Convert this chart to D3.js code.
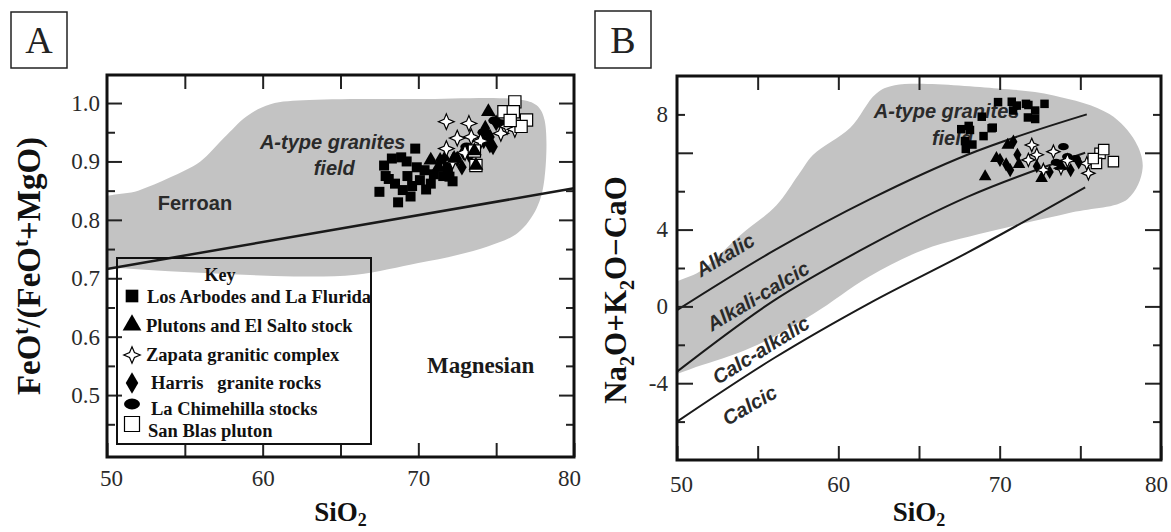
<!DOCTYPE html>
<html>
<head>
<meta charset="utf-8">
<script src="https://cdn.jsdelivr.net/npm/d3@7"></script>
<style>
  body { margin: 0; background: #fff; }
  svg { display: block; }
</style>
</head>
<body>
<div id="chart"></div>
<script>
// ---- Data ----

// shared x ticks (SiO2)
const xTickLabels = [50, 60, 70, 80];

// Panel A: FeOt/(FeOt+MgO) vs SiO2
const aYTicks = [0.5, 0.6, 0.7, 0.8, 0.9, 1.0];
const aBoundary = [[50, 0.716], [80, 0.854]]; // ferroan / magnesian line
const aField = [
  [49, 0.72], [49, 0.828], [52, 0.85], [54, 0.872], [56, 0.9], [57.5, 0.94], [59, 0.978],
  [60.5, 0.998], [63, 1.005], [70, 1.007], [76.5, 1.006], [77.6, 0.996], [78.1, 0.972],
  [78.1, 0.87], [77.6, 0.82], [76.4, 0.778], [74.5, 0.755], [72.5, 0.74], [70, 0.726],
  [66, 0.706], [62, 0.703], [58, 0.707], [54, 0.712], [51, 0.717]
];
const aLosArbodes = [
  [67.5, 0.848], [67.8, 0.893], [67.9, 0.875], [68.3, 0.905], [68.7, 0.83], [68.5, 0.862],
  [68.9, 0.907], [69.0, 0.851], [69.3, 0.875], [69.6, 0.858], [69.8, 0.922], [69.25, 0.9],
  [69.9, 0.89], [70.1, 0.868], [70.5, 0.852], [70.4, 0.885], [71.0, 0.878], [71.6, 0.875],
  [72.0, 0.874], [72.2, 0.866], [71.9, 0.89], [68.1, 0.87], [69.5, 0.84], [70.8, 0.862]
];
const aPlutons = [[74.5, 0.985], [70.8, 0.902], [71.3, 0.89], [72.3, 0.905], [73.6, 0.918], [73.7, 0.893]];
const aZapata = [
  [71.8, 0.968], [73.25, 0.965], [72.5, 0.94], [73.4, 0.942], [71.8, 0.922], [74.0, 0.935],
  [75.3, 0.948], [75.7, 0.96], [72.2, 0.9], [73.0, 0.915], [76.2, 0.955]
];
const aHarris = [
  [71.4, 0.902], [71.7, 0.905], [72.5, 0.904], [72.9, 0.916], [73.3, 0.91], [74.3, 0.957],
  [74.6, 0.928], [74.8, 0.925], [74.6, 0.942], [75.0, 0.966], [72.8, 0.89], [74.2, 0.935]
];
const aChimehilla = [[74.9, 0.97], [75.3, 0.965], [74.2, 0.95], [73.1, 0.925]];
const aSanBlas = [
  [76.2, 1.002], [75.5, 0.985], [76.1, 0.985], [76.95, 0.971], [76.6, 0.96], [75.9, 0.97],
  [73.6, 0.918], [73.7, 0.893]
];

// Panel B: Na2O+K2O-CaO vs SiO2 (MALI)
const bYTicks = [10, 4, 0, -4];
const bYTickLabels = ["8", "4", "0", "-4"]; // labels as printed in the figure
const bAlkalic = [[50, -0.2], [56, 2.9], [62, 5.6], [68, 7.9], [75.4, 10.0]];
const bAlkaliCalcic = [[50, -3.4], [56, 0.3], [62, 3.2], [68, 5.7], [75.3, 8.0]];
const bCalcAlkalic = [[50, -6.0], [56, -2.7], [62, 0.2], [68, 2.8], [75.3, 6.2]];
const bField = [
  [49, 0.66], [51.56, 1.89], [53.85, 3.66], [56.15, 5.25], [57.52, 6.84], [58.44, 7.9],
  [60.74, 9.31], [62.34, 11.08], [63.5, 11.52], [69.9, 11.35], [73.35, 10.99], [76.8, 10.02],
  [78.4, 8.6], [78.86, 7.19], [77.94, 5.6], [74.5, 4.9], [69.9, 4.0], [65.3, 2.95],
  [61.9, 1.54], [58.44, -0.4], [55.0, -2.0], [51.56, -3.05], [49, -3.5]
];
const bLosArbodes = [
  [67.62, 9.23], [68.08, 9.4], [67.85, 8.61], [68.31, 8.43], [69.0, 8.87], [69.57, 9.31],
  [69.9, 10.64], [71.06, 10.46], [71.63, 10.55], [72.2, 10.2], [72.78, 10.55], [70.83, 10.2],
  [71.75, 9.84], [72.2, 9.76], [68.89, 9.88], [69.5, 9.28], [68.16, 9.19], [67.9, 8.2],
  [70.75, 10.66], [71.78, 10.49]
];
const bPlutons = [[69.1, 6.76], [69.8, 7.71], [72.6, 6.67], [70.5, 8.4], [71.2, 7.4], [73.8, 7.3]];
const bZapata = [
  [71.99, 8.41], [71.78, 7.63], [73.33, 8.06], [72.71, 7.1], [75.4, 7.45], [75.5, 6.93],
  [74.2, 7.6], [72.3, 7.9], [73.8, 7.2]
];
const bHarris = [
  [70.85, 8.58], [70.02, 7.63], [70.65, 7.1], [71.1, 7.9], [72.3, 7.3], [73.1, 7.0],
  [74.4, 7.1], [74.9, 7.5], [70.4, 7.4]
];
const bChimehilla = [[73.95, 8.32], [74.2, 7.8], [74.7, 7.7], [73.5, 7.5]];
const bSanBlas = [[76.22, 7.97], [77.05, 7.54], [76.0, 7.45], [76.45, 8.17], [75.8, 7.7]];

// Legend (panel A)
const legendLabels = [
  "Los Arbodes and La Flurida",
  "Plutons and El Salto stock",
  "Zapata granitic complex",
  "Harris   granite rocks",
  "La Chimehilla stocks",
  "San Blas pluton"
];
const legendKeys = ["square", "triangle", "star", "diamond", "ellipse", "open"];

// ---- Setup ----
const width = 1171;
const height = 532;
const serif = "'Liberation Serif', 'Times New Roman', serif";
const sans = "'Liberation Sans', Arial, sans-serif";

const svg = d3
  .select("#chart")
  .append("svg")
  .attr("width", width)
  .attr("height", height)
  .style("background", "#fff");

// 4-point star used for Zapata
const star4 = {
  draw(ctx, size) {
    const r = Math.sqrt(size) * 0.62;
    const ri = r * 0.42;
    for (let i = 0; i < 8; i++) {
      const a = (i * Math.PI) / 4 - Math.PI / 2;
      const rr = i % 2 ? ri : r;
      const px = Math.cos(a) * rr;
      const py = Math.sin(a) * rr;
      if (i === 0) ctx.moveTo(px, py);
      else ctx.lineTo(px, py);
    }
    ctx.closePath();
  }
};

// lg = size factor used for the legend symbol
const markerStyle = {
  square: { type: d3.symbolSquare, size: 100, fill: "#000", stroke: "none", lg: 1.6 },
  triangle: { type: d3.symbolTriangle, size: 95, fill: "#000", stroke: "none", lg: 1.6 },
  star: { type: star4, size: 160, fill: "#fff", stroke: "#000", lg: 1.1 },
  diamond: { type: d3.symbolDiamond, size: 80, fill: "#000", stroke: "none", lg: 1.7 },
  ellipse: { type: d3.symbolCircle, size: 80, fill: "#000", stroke: "none", sx: 1.25, sy: 0.85, lg: 1.6 },
  open: { type: d3.symbolSquare, size: 150, fill: "#fff", stroke: "#000", lg: 1.5 }
};

function drawMarkers(g, data, key, x, y, k) {
  const st = markerStyle[key];
  g.selectAll(null)
    .data(data)
    .enter()
    .append("path")
    .attr("d", d3.symbol().type(st.type).size(st.size * k * k))
    .attr("transform", (d) => `translate(${x(d[0])},${y(d[1])}) scale(${st.sx || 1},${st.sy || 1})`)
    .attr("fill", st.fill)
    .attr("stroke", st.stroke)
    .attr("stroke-width", 1.2);
}

function drawFrame(g, p) {
  g.append("rect")
    .attr("x", p.left)
    .attr("y", p.top)
    .attr("width", p.right - p.left)
    .attr("height", p.bottom - p.top)
    .attr("fill", "none")
    .attr("stroke", "#111")
    .attr("stroke-width", 3);
}

function styleAxis(sel, fontSize) {
  sel.select(".domain").remove();
  sel.selectAll(".tick line").attr("stroke", "#222").attr("stroke-width", 2);
  sel.selectAll(".tick text")
    .attr("fill", "#2a2a2a")
    .style("font-family", serif)
    .style("font-size", fontSize + "px");
}

function drawXAxes(g, x, p, tickLen, pad) {
  const all = d3.range(50, 81, 5);
  const bottom = g.append("g")
    .attr("transform", `translate(0,${p.bottom})`)
    .call(d3.axisBottom(x).tickValues(all).tickSize(-tickLen).tickPadding(pad)
      .tickFormat((d) => (xTickLabels.includes(d) ? d : "")))
    .call((s) => styleAxis(s, 23));
  // end labels sit slightly inside the frame, as in the figure
  bottom.selectAll(".tick text").attr("dx", (d) => (d === 50 ? 4 : d === 80 ? -5 : 0));
  g.append("g")
    .attr("transform", `translate(0,${p.top})`)
    .call(d3.axisTop(x).tickValues(all.slice(1, -1)).tickSize(-tickLen).tickFormat(""))
    .call((s) => styleAxis(s, 23));
}

function drawYTicks(g, y, p, values, len) {
  g.append("g")
    .attr("transform", `translate(${p.left},0)`)
    .call(d3.axisLeft(y).tickValues(values).tickSize(-len).tickFormat(""))
    .call((s) => styleAxis(s, 23));
  g.append("g")
    .attr("transform", `translate(${p.right},0)`)
    .call(d3.axisRight(y).tickValues(values).tickSize(-len).tickFormat(""))
    .call((s) => styleAxis(s, 23));
}

function boxLabel(letter, x0, y0, w, h) {
  svg.append("rect")
    .attr("x", x0).attr("y", y0).attr("width", w).attr("height", h)
    .attr("fill", "#fff").attr("stroke", "#222").attr("stroke-width", 1.5);
  svg.append("text")
    .attr("x", x0 + w / 2).attr("y", y0 + h / 2 + 13)
    .attr("text-anchor", "middle")
    .style("font-family", serif).style("font-size", "38px")
    .attr("fill", "#222")
    .text(letter);
}

function xTitle(cx) {
  const t = svg.append("text")
    .attr("x", cx).attr("y", 521)
    .attr("text-anchor", "middle")
    .style("font-family", serif).style("font-weight", "bold").style("font-size", "27px")
    .attr("fill", "#111");
  t.append("tspan").text("SiO");
  t.append("tspan").attr("dy", 5).style("font-size", "18px").text("2");
}

// ================= Panel A =================
const pA = { left: 107, right: 574, top: 75, bottom: 457 };
const xA = d3.scaleLinear().domain([50, 80]).range([pA.left, pA.right]);
const yA = d3.scaleLinear().domain([0.394, 1.048]).range([pA.bottom, pA.top]);
const gA = svg.append("g");

gA.append("clipPath").attr("id", "clipA").append("rect")
  .attr("x", pA.left).attr("y", pA.top)
  .attr("width", pA.right - pA.left).attr("height", pA.bottom - pA.top);

gA.append("path")
  .datum(aField)
  .attr("clip-path", "url(#clipA)")
  .attr("d", d3.line().x((d) => xA(d[0])).y((d) => yA(d[1])).curve(d3.curveCatmullRomClosed.alpha(0.5)))
  .attr("fill", "#c3c3c3");

gA.append("path")
  .datum(aBoundary)
  .attr("d", d3.line().x((d) => xA(d[0])).y((d) => yA(d[1])))
  .attr("stroke", "#1a1a1a").attr("stroke-width", 2.5).attr("fill", "none");

// y ticks: major every 0.1 (with labels), minor every 0.05
drawYTicks(gA, yA, pA, d3.range(0.45, 1.04, 0.1), 8);
gA.append("g")
  .attr("transform", `translate(${pA.left},0)`)
  .call(d3.axisLeft(yA).tickValues(aYTicks).tickSize(-15).tickPadding(7).tickFormat(d3.format(".1f")))
  .call((s) => styleAxis(s, 23));
gA.append("g")
  .attr("transform", `translate(${pA.right},0)`)
  .call(d3.axisRight(yA).tickValues(aYTicks).tickSize(-15).tickFormat(""))
  .call((s) => styleAxis(s, 23));
drawXAxes(gA, xA, pA, 14, 13);
drawFrame(gA, pA);

// field annotations
gA.append("text")
  .attr("x", xA(55.65)).attr("y", yA(0.829)).attr("dy", "0.35em")
  .attr("text-anchor", "middle").attr("fill", "#2a2a2a")
  .style("font-family", sans).style("font-weight", "bold").style("font-size", "20px")
  .text("Ferroan");
gA.append("text")
  .attr("x", xA(64.5)).attr("y", yA(0.933)).attr("dy", "0.35em")
  .attr("text-anchor", "middle").attr("fill", "#2a2a2a")
  .style("font-family", sans).style("font-weight", "bold").style("font-style", "italic").style("font-size", "20px")
  .text("A-type granites");
gA.append("text")
  .attr("x", xA(64.6)).attr("y", yA(0.889)).attr("dy", "0.35em")
  .attr("text-anchor", "middle").attr("fill", "#2a2a2a")
  .style("font-family", sans).style("font-weight", "bold").style("font-style", "italic").style("font-size", "20px")
  .text("field");
gA.append("text")
  .attr("x", xA(74.0)).attr("y", yA(0.551)).attr("dy", "0.35em")
  .attr("text-anchor", "middle").attr("fill", "#1a1a1a")
  .style("font-family", serif).style("font-weight", "bold").style("font-size", "23px")
  .text("Magnesian");

// points
drawMarkers(gA, aLosArbodes, "square", xA, yA, 1);
drawMarkers(gA, aHarris, "diamond", xA, yA, 1);
drawMarkers(gA, aChimehilla, "ellipse", xA, yA, 1);
drawMarkers(gA, aZapata, "star", xA, yA, 1);
drawMarkers(gA, aSanBlas, "open", xA, yA, 1);
drawMarkers(gA, aPlutons, "triangle", xA, yA, 1);

// legend
const legend = gA.append("g");
legend.append("rect")
  .attr("x", 117).attr("y", 258).attr("width", 254).attr("height", 186)
  .attr("fill", "none").attr("stroke", "#111").attr("stroke-width", 2);
legend.append("text")
  .attr("x", 220).attr("y", 281).attr("text-anchor", "middle")
  .style("font-family", serif).style("font-weight", "bold").style("font-size", "18px")
  .attr("fill", "#111").text("Key");
const legendRows = [
  { my: 296, ty: 303, tx: 147 },
  { my: 325, ty: 332, tx: 146 },
  { my: 355, ty: 361, tx: 146 },
  { my: 383, ty: 389, tx: 151 },
  { my: 404, ty: 415, tx: 151 },
  { my: 424, ty: 437, tx: 148 }
];
legendKeys.forEach((key, i) => {
  const st = markerStyle[key];
  const r = legendRows[i];
  legend.append("path")
    .attr("d", d3.symbol().type(st.type).size(st.size * st.lg))
    .attr("transform", `translate(132,${r.my}) scale(${st.sx || 1},${st.sy || 1})`)
    .attr("fill", st.fill).attr("stroke", st.stroke).attr("stroke-width", 1.2);
  legend.append("text")
    .attr("x", r.tx).attr("y", r.ty)
    .style("font-family", serif).style("font-weight", "bold").style("font-size", "18.5px")
    .style("white-space", "pre").attr("xml:space", "preserve")
    .attr("fill", "#111")
    .text(legendLabels[i]);
});

// axis titles
const yTitleA = svg.append("text")
  .attr("transform", "translate(40,266) rotate(-90)")
  .attr("text-anchor", "middle")
  .style("font-family", serif).style("font-weight", "bold").style("font-size", "33px")
  .attr("fill", "#111");
yTitleA.append("tspan").text("FeO");
yTitleA.append("tspan").attr("dy", -12).style("font-size", "21px").text("t");
yTitleA.append("tspan").attr("dy", 12).text("/(FeO");
yTitleA.append("tspan").attr("dy", -12).style("font-size", "21px").text("t");
yTitleA.append("tspan").attr("dy", 12).text("+MgO)");

xTitle((pA.left + pA.right) / 2);
boxLabel("A", 11, 12, 56, 56);

// ================= Panel B =================
const pB = { left: 677, right: 1161, top: 76, bottom: 460 };
const xB = d3.scaleLinear().domain([50, 80]).range([pB.left, pB.right]);
const yB = d3.scaleLinear().domain([-8, 12]).range([pB.bottom, pB.top]);
const gB = svg.append("g");

gB.append("clipPath").attr("id", "clipB").append("rect")
  .attr("x", pB.left).attr("y", pB.top)
  .attr("width", pB.right - pB.left).attr("height", pB.bottom - pB.top);

gB.append("path")
  .datum(bField)
  .attr("clip-path", "url(#clipB)")
  .attr("d", d3.line().x((d) => xB(d[0])).y((d) => yB(d[1])).curve(d3.curveCatmullRomClosed.alpha(0.5)))
  .attr("fill", "#c3c3c3");

const lineB = d3.line().x((d) => xB(d[0])).y((d) => yB(d[1])).curve(d3.curveMonotoneX);
[bAlkalic, bAlkaliCalcic, bCalcAlkalic].forEach((ln) => {
  gB.append("path")
    .datum(ln)
    .attr("d", lineB)
    .attr("stroke", "#1a1a1a").attr("stroke-width", 2).attr("fill", "none");
});

// y ticks: every 2, long on multiples of 4
const bMinor = d3.range(-6, 12, 2).filter((v) => v % 4 !== 0);
const bMajor = d3.range(-4, 12, 4);
drawYTicks(gB, yB, pB, bMinor, 8);
drawYTicks(gB, yB, pB, bMajor, 16);
gB.append("g")
  .attr("transform", `translate(${pB.left},0)`)
  .call(d3.axisLeft(yB).tickValues(bYTicks).tickSize(0).tickPadding(9)
    .tickFormat((d, i) => bYTickLabels[i]))
  .call((s) => styleAxis(s, 23));
drawXAxes(gB, xB, pB, 14, 16);
drawFrame(gB, pB);

// field + series labels
const bLabel = (txt, x, y, rot, anchor) =>
  gB.append("text")
    .attr("transform", `translate(${xB(x)},${yB(y)}) rotate(${rot})`)
    .attr("dy", "0.35em")
    .attr("text-anchor", anchor)
    .attr("fill", "#2a2a2a")
    .style("font-family", sans).style("font-weight", "bold").style("font-style", "italic")
    .style("font-size", "20px")
    .text(txt);
bLabel("A-type granites", 62.2, 10.2, 0, "start");
bLabel("field", 65.8, 8.77, 0, "start");
bLabel("Alkalic", 52.98, 2.68, -31, "middle");
bLabel("Alkali-calcic", 55.02, 0.54, -31, "middle");
bLabel("Calc-alkalic", 55.2, -2.27, -32, "middle");
bLabel("Calcic", 54.5, -5.14, -30, "middle");

drawMarkers(gB, bLosArbodes, "square", xB, yB, 0.85);
drawMarkers(gB, bHarris, "diamond", xB, yB, 0.85);
drawMarkers(gB, bChimehilla, "ellipse", xB, yB, 0.85);
drawMarkers(gB, bZapata, "star", xB, yB, 0.85);
drawMarkers(gB, bSanBlas, "open", xB, yB, 0.85);
drawMarkers(gB, bPlutons, "triangle", xB, yB, 0.85);

const yTitleB = svg.append("text")
  .attr("transform", "translate(626,290) rotate(-90)")
  .attr("text-anchor", "middle")
  .style("font-family", serif).style("font-weight", "bold").style("font-size", "31px")
  .attr("fill", "#111");
yTitleB.append("tspan").text("Na");
yTitleB.append("tspan").attr("dy", 8).style("font-size", "20px").text("2");
yTitleB.append("tspan").attr("dy", -8).text("O+K");
yTitleB.append("tspan").attr("dy", 8).style("font-size", "20px").text("2");
yTitleB.append("tspan").attr("dy", -8).text("O\u2212CaO");

xTitle((pB.left + pB.right) / 2);
boxLabel("B", 595, 11, 56, 57);
</script>
</body>
</html>
